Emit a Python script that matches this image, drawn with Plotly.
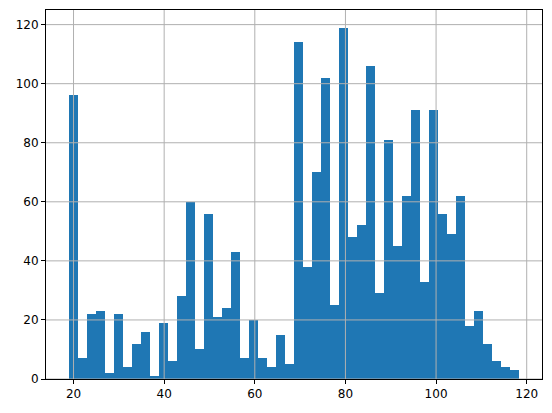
import plotly.graph_objects as go

counts = [96, 7, 22, 23, 2, 22, 4, 12, 16, 1,
          19, 6, 28, 60, 10, 56, 21, 24, 43, 7,
          20, 7, 4, 15, 5, 114, 38, 70, 102, 25,
          119, 48, 52, 106, 29, 81, 45, 62, 91, 33,
          91, 56, 49, 62, 18, 23, 12, 6, 4, 3]
bin_start = 18.9
bin_end = 118.4
x_ticks = [20, 40, 60, 80, 100, 120]
y_ticks = [0, 20, 40, 60, 80, 100, 120]

n = len(counts)
bw = (bin_end - bin_start) / n
centers = [bin_start + bw * (i + 0.5) for i in range(n)]
span = bin_end - bin_start

fig = go.Figure(go.Bar(x=centers, y=counts, width=bw,
                       marker=dict(color="#1f77b4", line=dict(width=0))))

grid_style = dict(color="#b0b0b0", width=1)
shapes = []
for t in x_ticks:
    shapes.append(dict(type="line", xref="x", yref="paper", x0=t, x1=t, y0=0, y1=1,
                       line=grid_style, layer="above"))
for t in y_ticks:
    shapes.append(dict(type="line", xref="paper", yref="y", x0=0, x1=1, y0=t, y1=t,
                       line=grid_style, layer="above"))

axis_common = dict(showline=True, linecolor="black", linewidth=1, mirror=True,
                   ticks="outside", ticklen=4, tickwidth=1, tickcolor="black",
                   showgrid=False, zeroline=False, layer="above traces",
                   automargin=False,
                   tickfont=dict(family="DejaVu Sans", size=12, color="black"))

fig.update_layout(
    width=552, height=413,
    margin=dict(l=46, r=10, t=10, b=34),
    plot_bgcolor="white", paper_bgcolor="white",
    showlegend=False, bargap=0,
    shapes=shapes,
    xaxis=dict(range=[bin_start - 0.05 * span, bin_end + 0.05 * span],
               tickvals=x_ticks, **axis_common),
    yaxis=dict(range=[0, max(counts) * 1.05], tickvals=y_ticks, **axis_common),
)

fig.write_html("out.html", config={"displayModeBar": False},
               post_script="document.body.style.margin='0';")
